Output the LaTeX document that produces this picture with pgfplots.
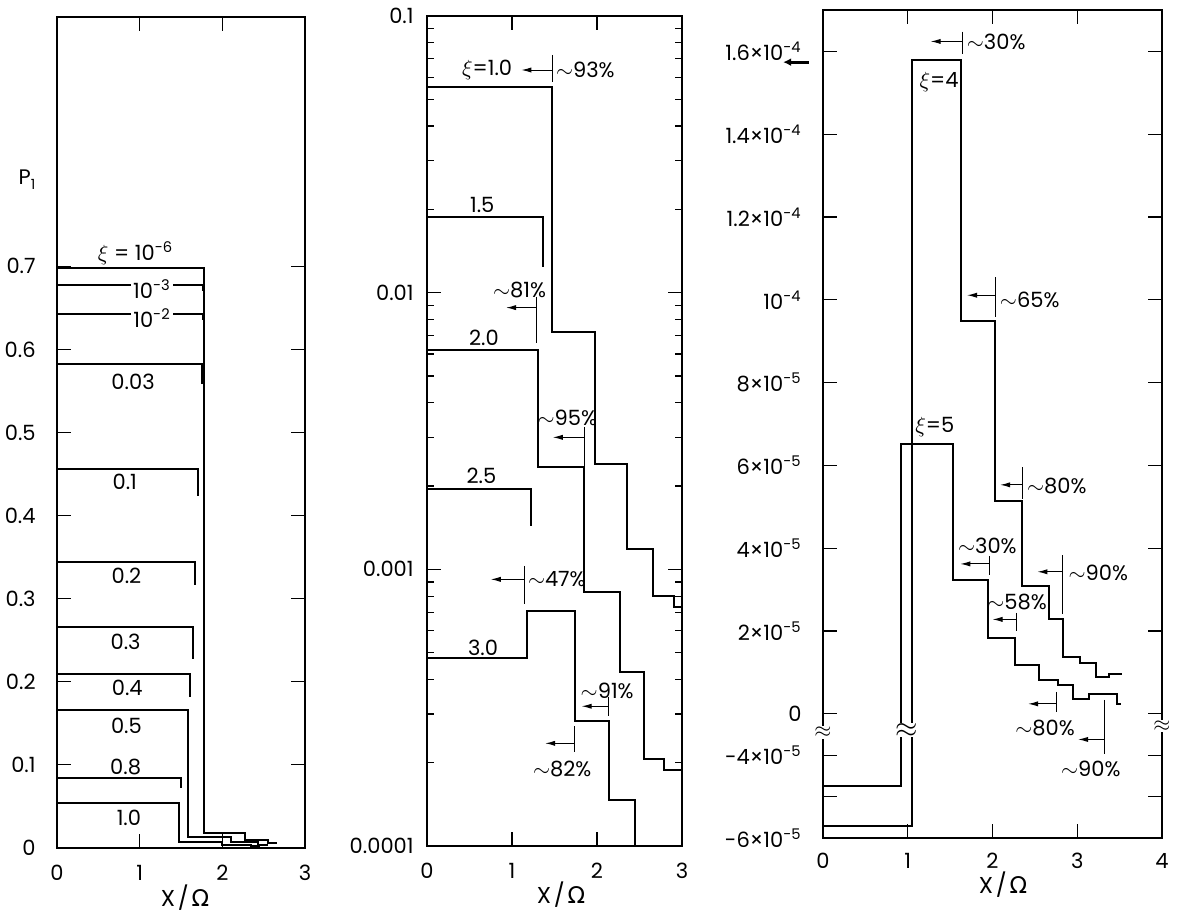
\documentclass[border=0pt]{standalone}
\usepackage{pgfplots}
\pgfplotsset{compat=1.18}
\usepackage{fontspec}
\setmainfont{Poppins}
\newfontfamily\dv{DejaVu Sans}
\usetikzlibrary{arrows.meta}
\newcommand{\ann}[5]{% x, y1, y2, yarrow, xarrowend
  \draw[line width=0.5pt] (axis cs:#1,#2) -- (axis cs:#1,#3);
  \draw[line width=0.5pt,-{Latex[length=5pt,width=2.6pt]}] (axis cs:#1,#4) -- (axis cs:#5,#4);}
\newcommand{\xlab}{X\kern0.12em/\kern0.12em{\dv Ω}}
\begin{document}
\fontsize{10.5}{12}\selectfont
\begin{tikzpicture}
\useasboundingbox (0pt,0pt) rectangle (589pt,456.5pt);
\pgfplotsset{panel/.style={scale only axis, anchor=south west, clip=false,
  axis line style={line width=0.8pt}, tick style={black, line width=0.6pt},
  major tick length=7pt, minor tick length=3.5pt, tick align=inside,
  font=\fontsize{10.5}{12}\selectfont, scaled ticks=false,
  xticklabel style={yshift=-5pt}, yticklabel style={xshift=-3pt}},
  curve/.style={black, line width=1pt, mark=none}}

% ---------------- Panel 1 ----------------
\begin{axis}[panel, at={(28.5pt,32.5pt)}, width=124pt, height=415.5pt,
  xmin=0, xmax=3, ymin=0, ymax=1,
  xtick={0,1,2,3}, xticklabels={0,1,2,3},
  ytick={0,0.1,0.2,0.3,0.4,0.5,0.6,0.7},
  yticklabels={0,0.1,0.2,0.3,0.4,0.5,0.6,0.7},
  yticklabel style={xshift=-4pt}]
\addplot[curve] coordinates {(0,0.698)(1.78,0.698)(1.78,0.018)(2.27,0.018)(2.27,0.0096)(2.55,0.0096)(2.55,0.006)(2.66,0.006)};
\addplot[curve] coordinates {(0,0.678)(1.77,0.678)(1.77,0.670)};
\addplot[curve] coordinates {(0,0.642)(1.77,0.642)(1.77,0.635)};
\addplot[curve] coordinates {(0,0.582)(1.76,0.582)(1.76,0.558)};
\addplot[curve] coordinates {(0,0.456)(1.70,0.456)(1.70,0.423)};
\addplot[curve] coordinates {(0,0.344)(1.67,0.344)(1.67,0.316)};
\addplot[curve] coordinates {(0,0.266)(1.64,0.266)(1.64,0.228)};
\addplot[curve] coordinates {(0,0.209)(1.61,0.209)(1.61,0.182)};
\addplot[curve] coordinates {(0,0.166)(1.59,0.166)(1.59,0.013)(2.10,0.013)(2.10,0.007)(2.43,0.007)(2.43,0.004)(2.55,0.004)};
\addplot[curve] coordinates {(0,0.084)(1.50,0.084)(1.50,0.072)};
\addplot[curve] coordinates {(0,0.054)(1.47,0.054)(1.47,0.007)(2.0,0.007)(2.0,0.003)(2.35,0.003)(2.35,0.002)(2.45,0.002)};
\node at (axis cs:0.95,0.716) {$\xi$ = 10\textsuperscript{-6}};
\node[fill=white, inner sep=1pt] at (axis cs:1.15,0.673) {10\textsuperscript{-3}};
\node[fill=white, inner sep=1pt] at (axis cs:1.15,0.638) {10\textsuperscript{-2}};
\node at (axis cs:0.92,0.561) {0.03};
\node at (axis cs:0.82,0.440) {0.1};
\node at (axis cs:0.84,0.327) {0.2};
\node at (axis cs:0.83,0.248) {0.3};
\node at (axis cs:0.85,0.193) {0.4};
\node at (axis cs:0.84,0.147) {0.5};
\node at (axis cs:0.83,0.098) {0.8};
\node at (axis cs:0.87,0.036) {1.0};
\end{axis}
\node at (13.5pt,366.5pt) {P\raisebox{-0.45ex}{\scriptsize 1}};
\node[font=\fontsize{11.5}{13}\selectfont] at (92.5pt,7.5pt) {\xlab};

% ---------------- Panel 2 ----------------
\begin{axis}[panel, at={(213.5pt,33.5pt)}, width=127.5pt, height=415pt,
  xmin=0, xmax=3, ymode=log, ymin=1e-4, ymax=0.1,
  xtick={0,1,2,3}, xticklabels={0,1,2,3},
  ytick={1e-4,1e-3,1e-2,1e-1}, yticklabels={0.0001,0.001,0.01,0.1},
  minor ytick={2e-4,3e-4,4e-4,5e-4,6e-4,7e-4,8e-4,9e-4,2e-3,3e-3,4e-3,5e-3,6e-3,7e-3,8e-3,9e-3,2e-2,3e-2,4e-2,5e-2,6e-2,7e-2,8e-2,9e-2}]
\addplot[curve] coordinates {(0,0.0555)(1.47,0.0555)(1.47,0.00718)(1.98,0.00718)(1.98,0.0024)(2.35,0.0024)(2.35,0.00118)(2.66,0.00118)(2.66,0.0008)(2.91,0.0008)(2.91,0.00073)(3,0.00073)};
\addplot[curve] coordinates {(0,0.0187)(1.36,0.0187)(1.36,0.0124)};
\addplot[curve] coordinates {(0,0.00622)(1.31,0.00622)(1.31,0.00234)(1.85,0.00234)(1.85,0.00083)(2.27,0.00083)(2.27,0.000427)(2.55,0.000427)(2.55,0.000206)(2.79,0.000206)(2.79,0.000188)(3,0.000188)};
\addplot[curve] coordinates {(0,0.00195)(1.22,0.00195)(1.22,0.00143)};
\addplot[curve] coordinates {(0,0.00048)(1.18,0.00048)(1.18,0.000705)(1.74,0.000705)(1.74,0.000282)(2.14,0.000282)(2.14,0.000147)(2.45,0.000147)(2.45,0.0001)};
\ann{1.48}{0.0723}{0.0578}{0.0638}{1.11}
\node[anchor=east, inner sep=1pt] at (axis cs:1.03,0.0638) {$\xi$=1.0};
\node[anchor=west, inner sep=1pt] at (axis cs:1.49,0.0638) {$\sim$93\%};
\ann{1.29}{0.00968}{0.0066}{0.00883}{0.93}
\node at (axis cs:1.09,0.01025) {$\sim$81\%};
\ann{1.85}{0.00326}{0.0023}{0.0030}{1.48}
\node at (axis cs:1.65,0.00354) {$\sim$95\%};
\ann{1.15}{0.00103}{0.000748}{0.00092}{0.75}
\node[anchor=west, inner sep=1pt] at (axis cs:1.16,0.00092) {$\sim$47\%};
\ann{2.13}{0.000345}{0.000294}{0.00032}{1.82}
\node at (axis cs:2.12,0.000365) {$\sim$91\%};
\ann{1.74}{0.000271}{0.000218}{0.000235}{1.39}
\node at (axis cs:1.59,0.00019) {$\sim$82\%};
\node at (axis cs:0.65,0.0208) {1.5};
\node at (axis cs:0.67,0.00689) {2.0};
\node at (axis cs:0.64,0.00217) {2.5};
\node at (axis cs:0.66,0.000522) {3.0};
\end{axis}
\node[font=\fontsize{11.5}{13}\selectfont] at (280.5pt,9pt) {\xlab};

% ---------------- Panel 3 ----------------
% values below the break (x<1) are drawn shifted up by 3e-5 (axis break)
\begin{axis}[panel, at={(411.5pt,37.5pt)}, width=169.5pt, height=414pt,
  xmin=0, xmax=4, ymin=-3e-5, ymax=1.7e-4,
  xtick={0,1,2,3,4}, xticklabels={0,1,2,3,4},
  xticklabel style={yshift=1pt},
  ytick={-3e-5,-2e-5,-1e-5,0,2e-5,4e-5,6e-5,8e-5,1e-4,1.2e-4,1.4e-4,1.6e-4},
  yticklabels={-6×10\textsuperscript{-5},,-4×10\textsuperscript{-5},0,2×10\textsuperscript{-5},4×10\textsuperscript{-5},6×10\textsuperscript{-5},8×10\textsuperscript{-5},10\textsuperscript{-4},1.2×10\textsuperscript{-4},1.4×10\textsuperscript{-4},1.6×10\textsuperscript{-4}},
  yticklabel style={xshift=-4pt}]
\addplot[curve] coordinates {(0,-2.7e-5)(1.05,-2.7e-5)(1.05,1.58e-4)(1.63,1.58e-4)(1.63,9.49e-5)(2.03,9.49e-5)(2.03,5.15e-5)(2.35,5.15e-5)(2.35,3.09e-5)(2.67,3.09e-5)(2.67,2.3e-5)(2.83,2.3e-5)(2.83,1.37e-5)(3.03,1.37e-5)(3.03,1.22e-5)(3.22,1.22e-5)(3.22,0.89e-5)(3.37,0.89e-5)(3.37,0.96e-5)(3.53,0.96e-5)};
\addplot[curve] coordinates {(0,-1.75e-5)(0.92,-1.75e-5)(0.92,6.51e-5)(1.53,6.51e-5)(1.53,3.23e-5)(1.95,3.23e-5)(1.95,1.84e-5)(2.27,1.84e-5)(2.27,1.17e-5)(2.55,1.17e-5)(2.55,0.81e-5)(2.77,0.81e-5)(2.77,0.69e-5)(2.95,0.69e-5)(2.95,0.36e-5)(3.14,0.36e-5)(3.14,0.48e-5)(3.47,0.48e-5)(3.47,0.24e-5)(3.52,0.24e-5)};
\node at (axis cs:1.37,1.526e-4) {$\xi$=4};
\node at (axis cs:1.32,6.92e-5) {$\xi$=5};
\ann{1.65}{1.648e-4}{1.593e-4}{1.624e-4}{1.27}
\node[anchor=west, inner sep=1pt] at (axis cs:1.67,1.624e-4) {$\sim$30\%};
\ann{2.04}{1.054e-4}{0.958e-4}{1.011e-4}{1.70}
\node[anchor=west, inner sep=1pt] at (axis cs:2.06,1.0e-4) {$\sim$65\%};
\ann{2.35}{5.96e-5}{5.2e-5}{5.53e-5}{2.09}
\node[anchor=west, inner sep=1pt] at (axis cs:2.38,5.5e-5) {$\sim$80\%};
\ann{1.96}{3.81e-5}{3.35e-5}{3.62e-5}{1.62}
\node at (axis cs:1.94,4.05e-5) {$\sim$30\%};
\ann{2.28}{2.44e-5}{2.01e-5}{2.28e-5}{2.0}
\node at (axis cs:2.29,2.71e-5) {$\sim$58\%};
\ann{2.83}{3.83e-5}{2.40e-5}{3.43e-5}{2.53}
\node[anchor=west, inner sep=1pt] at (axis cs:2.87,3.4e-5) {$\sim$90\%};
\ann{2.76}{0.53e-5}{0.05e-5}{0.24e-5}{2.42}
\node at (axis cs:2.62,-0.34e-5) {$\sim$80\%};
\ann{3.32}{0.335e-5}{-0.98e-5}{-0.62e-5}{3.01}
\node at (axis cs:3.16,-1.34e-5) {$\sim$90\%};
\node[fill=white, inner sep=0.5pt] at (axis cs:0,-0.45e-5) {$\approx$};
\node[fill=white, inner sep=0.5pt] at (axis cs:4,-0.3e-5) {$\approx$};
\node[fill=white, inner sep=0pt, font=\Large] at (axis cs:0.985,-0.4e-5) {$\approx$};
\draw[line width=1.4pt, {Latex[length=4pt,width=4pt]}-] (axis cs:-0.47,1.574e-4) -- (axis cs:-0.17,1.574e-4);
\end{axis}
\node[font=\fontsize{11.5}{13}\selectfont] at (501.5pt,14pt) {\xlab};
\end{tikzpicture}
\end{document}
